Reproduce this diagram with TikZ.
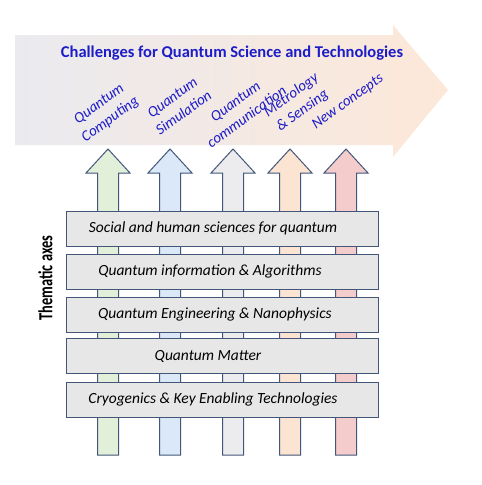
\documentclass[tikz,border=0pt]{standalone}
\usepackage{fontspec}
\setmainfont{Carlito}
\usetikzlibrary{positioning}

\definecolor{titleblue}{RGB}{28,28,200}
\definecolor{boxline}{RGB}{66,86,122}
\definecolor{boxfill}{RGB}{231,231,231}
\definecolor{bandleft}{RGB}{234,234,239}
\definecolor{bandright}{RGB}{253,232,216}
\definecolor{pgreen}{RGB}{226,239,217}
\definecolor{pblue}{RGB}{218,232,247}
\definecolor{pgray}{RGB}{236,236,238}
\definecolor{ppeach}{RGB}{252,228,210}
\definecolor{ppink}{RGB}{244,204,204}

\tikzset{
  axisbox/.style = {draw=boxline, fill=boxfill, line width=1pt,
    minimum width=312pt, minimum height=35pt, inner sep=0pt},
  theme/.style = {font=\fontsize{15.5}{17}\selectfont\itshape},
  topic/.style = {rotate=36, align=center, text=titleblue, inner sep=0pt,
    font=\fontsize{15}{19}\selectfont\itshape},
  pillar/.style = {draw=boxline, line width=1pt, line join=miter}
}

\begin{document}
\begin{tikzpicture}[x=1pt, y=1pt]
        \useasboundingbox (0,0) rectangle (482,-485);

        % big background arrow
        \shade[left color=bandleft, right color=bandright]
            (15,-35) -- (393,-35) -- (393,-25) -- (448,-90) -- (393,-157)
            -- (393,-145) -- (15,-145) -- cycle;
        \node[font=\fontsize{16.5}{18}\selectfont\bfseries, text=titleblue] (title) at (232,-53)
            {Challenges for Quantum Science and Technologies};

        \node[topic] (comp) at (105,-112) {Quantum\\Computing};
        \node[topic] (simu) at (178,-105) {Quantum\\Simulation};
        \node[topic] (comm) at (241,-109) {Quantum\\communication};
        \node[topic] (metr) at (297,-103) {Metrology\\\& Sensing};
        \node[topic] (newc) at (348,-102) {New concepts};

        % pillars
        \foreach \c/\col in {108/pgreen, 170/pblue, 233/pgray, 290/ppeach, 346/ppink}
            \draw[pillar, fill=\col] (\c-10.5,-455) -- (\c-10.5,-173) -- (\c-22,-173)
                -- (\c,-149) -- (\c+22,-173) -- (\c+10.5,-173) -- (\c+10.5,-455) -- cycle;

        % thematic axes
        \node[axisbox] (s1) at (222,-228.5) {};
        \node[axisbox] (s2) at (222,-271.5) {};
        \node[axisbox] (s3) at (222,-314.5) {};
        \node[axisbox] (s4) at (222,-356) {};
        \node[axisbox] (s5) at (222,-399.5) {};

        \node[theme] at ([xshift=-9pt]s1) {Social and human sciences for quantum};
        \node[theme] at ([xshift=-12pt]s2) {Quantum information \& Algorithms};
        \node[theme] at ([xshift=-7pt]s3) {Quantum Engineering \& Nanophysics};
        \node[theme] at ([xshift=-14pt]s4) {Quantum Matter};
        \node[theme] at ([xshift=-9pt]s5) {Cryogenics \& Key Enabling Technologies};

        \node[rotate=90, font=\fontsize{16}{18}\selectfont\bfseries] (axes) at (45.5,-278)
            {\scalebox{0.9}[1.25]{Thematic axes}};
    \end{tikzpicture}
\end{document}
